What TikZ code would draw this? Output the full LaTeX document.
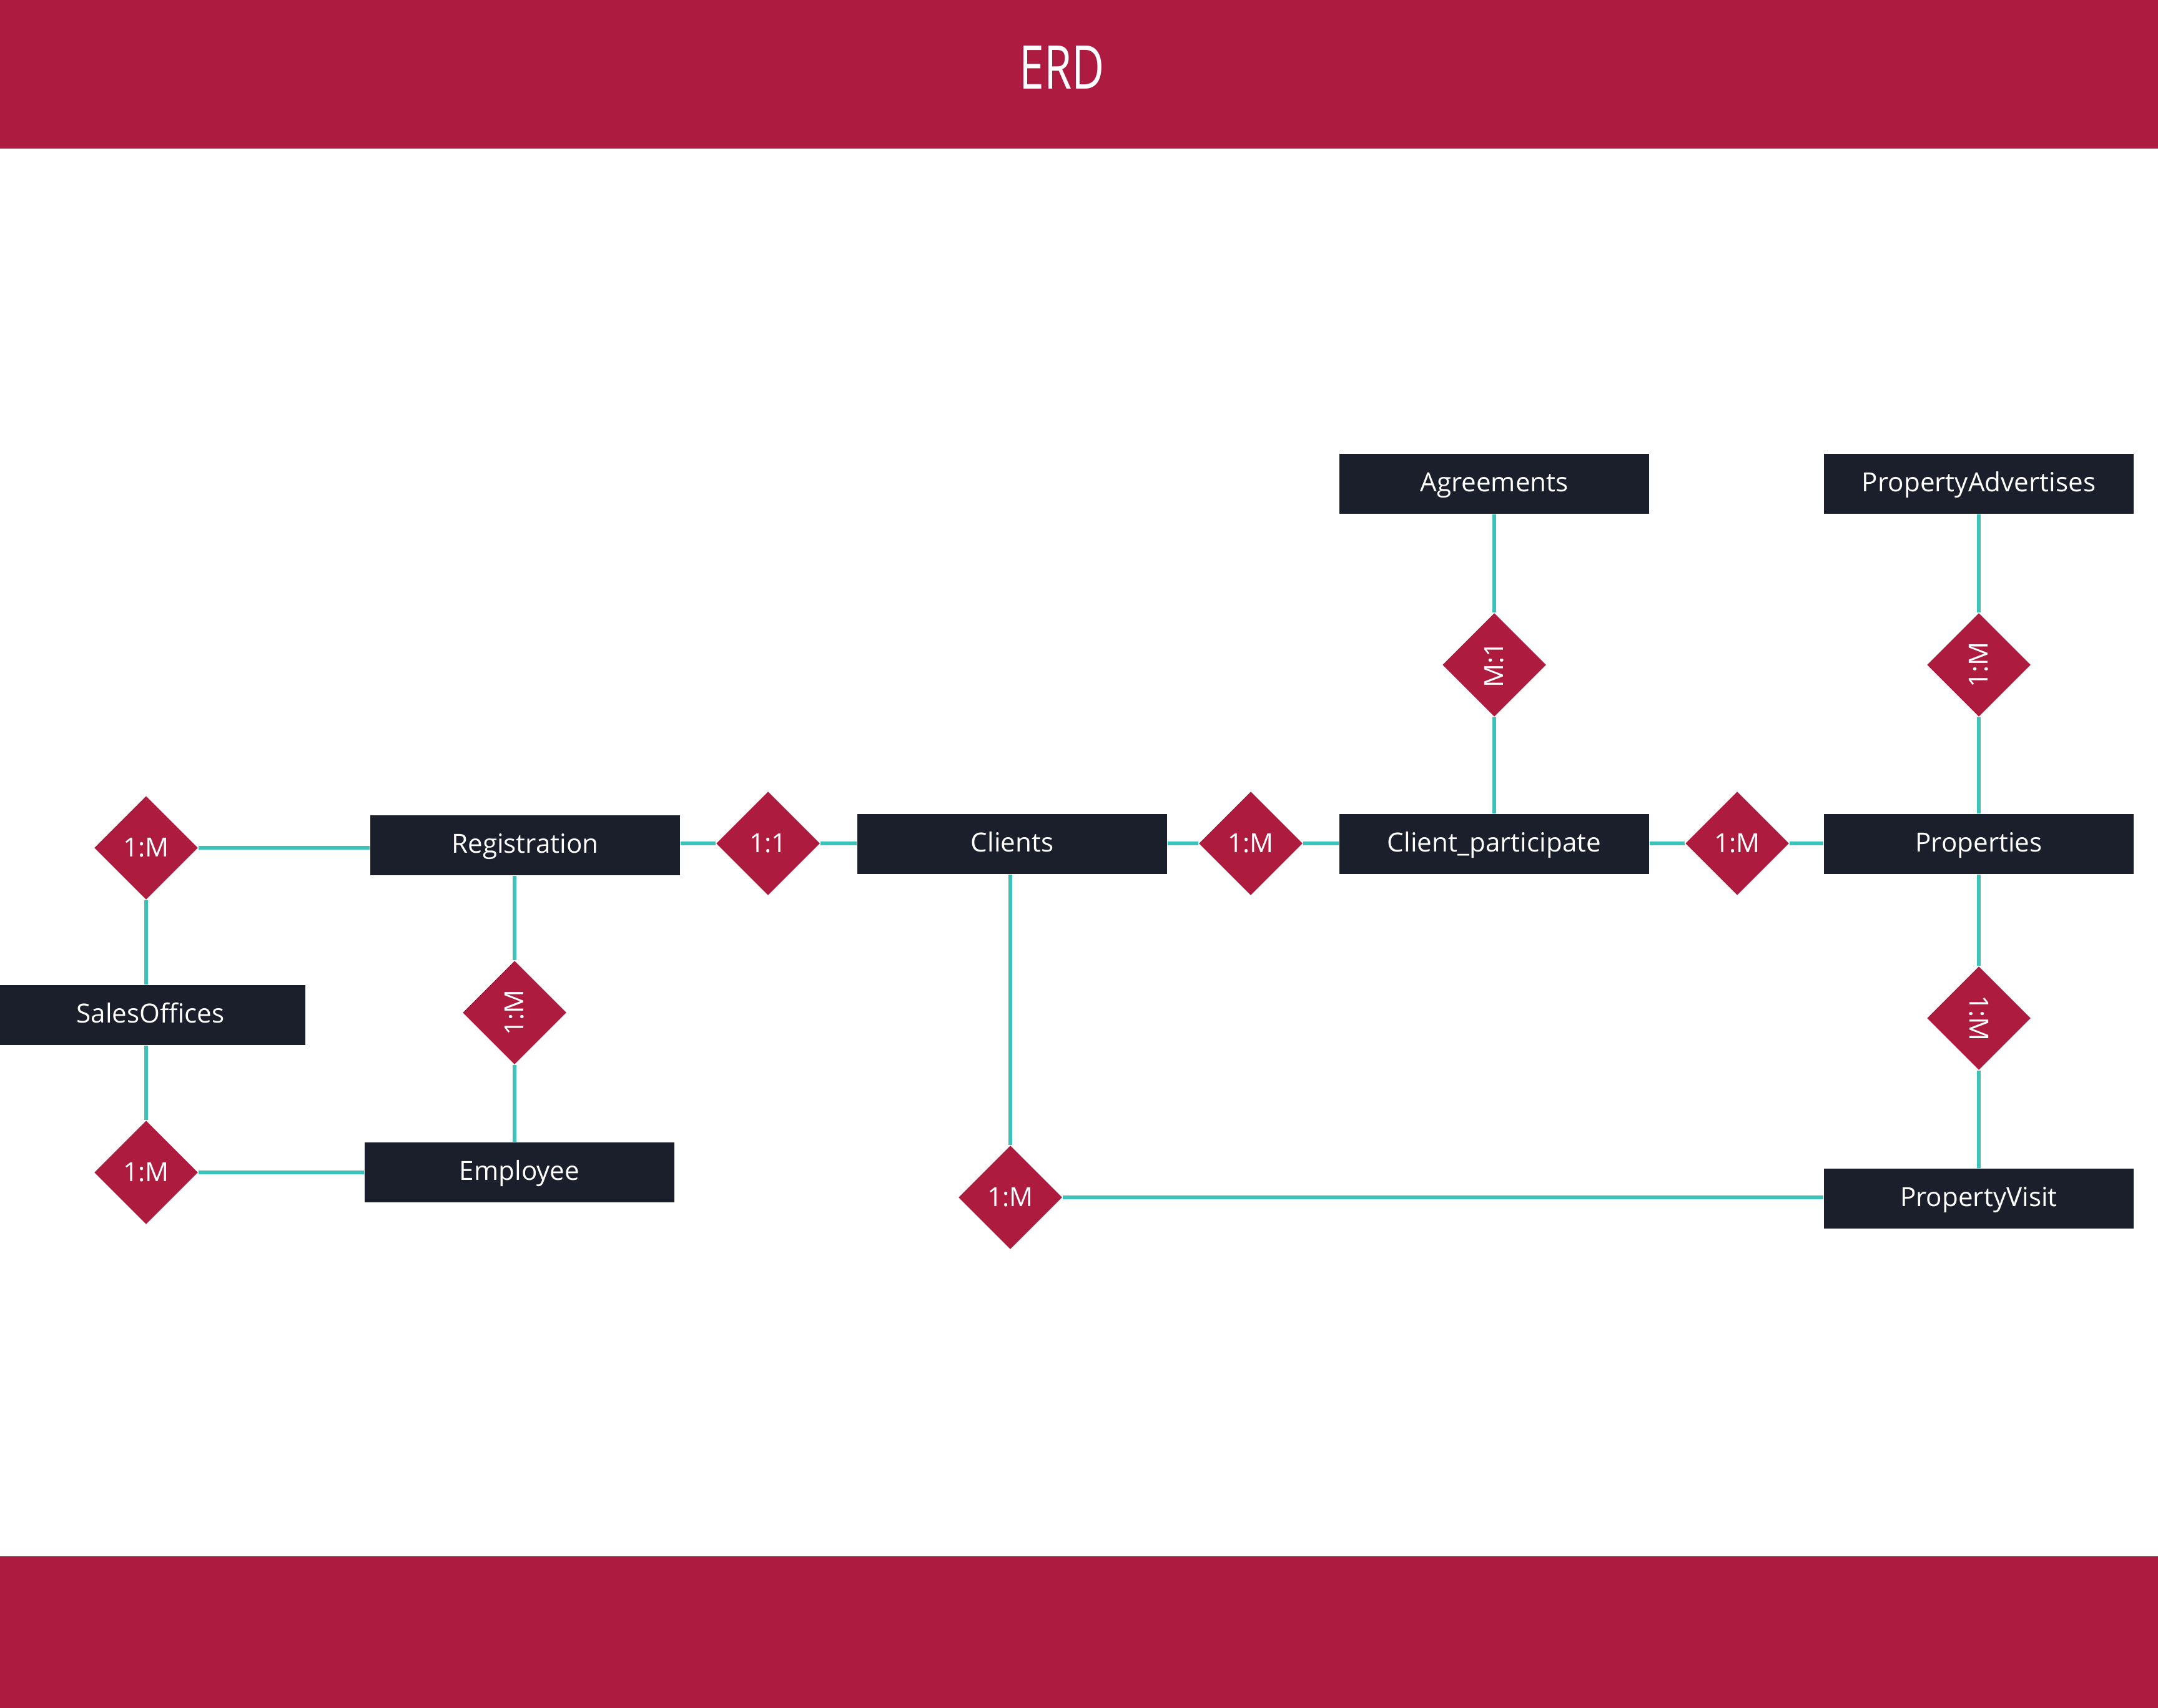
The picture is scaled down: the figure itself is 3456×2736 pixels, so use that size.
\documentclass[tikz,border=0pt]{standalone}
\usepackage{fontspec}
\setmainfont{Open Sans}
\usetikzlibrary{shapes.geometric}
\definecolor{crimson}{HTML}{AD1C40}
\definecolor{dkred}{HTML}{AD1B3E}
\definecolor{navy}{HTML}{1B1F2B}
\definecolor{teal}{HTML}{3EC1B8}
\begin{document}
\begin{tikzpicture}[x=0.01cm,y=-0.01cm,
  entity/.style={rectangle,fill=navy,text=white,minimum width=4.96cm,minimum height=0.96cm,inner sep=0pt,text height=0.714em,text depth=0pt,font=\fontsize{12}{14}\selectfont},
  rel/.style={diamond,fill=dkred,text=white,minimum width=1.66cm,minimum height=1.66cm,inner sep=0pt,font=\fontsize{12}{14}\selectfont},
  conn/.style={draw=teal,line width=1.5pt}]
\useasboundingbox (0,0) rectangle (3456,2736);
\fill[crimson] (0,0) rectangle (3456,238);
\fill[crimson] (0,2493) rectangle (3456,2736);
\node[text=white,font=\fontsize{27.5}{30}\selectfont] (title) at (1701,108) {\scalebox{0.74}[1]{ERD}};

% entities
\node[entity] (agr) at (2393,775) {Agreements};
\node[entity] (padv) at (3169,775) {PropertyAdvertises};
\node[entity] (reg) at (841,1354) {Registration};
\node[entity] (cli) at (1621,1352) {Clients};
\node[entity] (cp) at (2393,1352) {Client\_participate};
\node[entity] (prop) at (3169,1352) {Properties};
\node[entity] (so) at (241,1626) {SalesOffices};
\node[entity] (emp) at (832,1878) {Employee};
\node[entity] (pv) at (3169,1920) {PropertyVisit};

% relationships
\node[rel] (d1) at (234,1358) {1:M};
\node[rel] (d2) at (824,1622) {\rotatebox{90}{1:M}};
\node[rel] (d3) at (234,1878) {1:M};
\node[rel] (d4) at (1230,1351) {1:1};
\node[rel] (d5) at (2003,1351) {1:M};
\node[rel] (d6) at (2782,1351) {1:M};
\node[rel] (d7) at (2393,1065) {\rotatebox{90}{M:1}};
\node[rel] (d8) at (3169,1065) {\rotatebox{90}{1:M}};
\node[rel] (d9) at (3169,1631) {\rotatebox{-90}{1:M}};
\node[rel] (d10) at (1618,1918) {1:M};

% connectors
\path[conn] (d1.east) -- (d1.east -| reg.west);
\path[conn] (d1.south) -- (d1.south |- so.north);
\path[conn] (d3.north) -- (d3.north |- so.south);
\path[conn] (d3.east) -- (d3.east -| emp.west);
\path[conn] (d2.north) -- (d2.north |- reg.south);
\path[conn] (d2.south) -- (d2.south |- emp.north);
\path[conn] (reg.east |- d4) -- (d4.west);
\path[conn] (d4.east) -- (d4.east -| cli.west);
\path[conn] (cli.east |- d5) -- (d5.west);
\path[conn] (d5.east) -- (d5.east -| cp.west);
\path[conn] (cp.east |- d6) -- (d6.west);
\path[conn] (d6.east) -- (d6.east -| prop.west);
\path[conn] (agr.south) -- (d7.north);
\path[conn] (d7.south) -- (cp.north);
\path[conn] (padv.south) -- (d8.north);
\path[conn] (d8.south) -- (prop.north);
\path[conn] (prop.south) -- (d9.north);
\path[conn] (d9.south) -- (pv.north);
\path[conn] (d10.north) -- (d10.north |- cli.south);
\path[conn] (d10.east) -- (d10.east -| pv.west);
\end{tikzpicture}
\end{document}
